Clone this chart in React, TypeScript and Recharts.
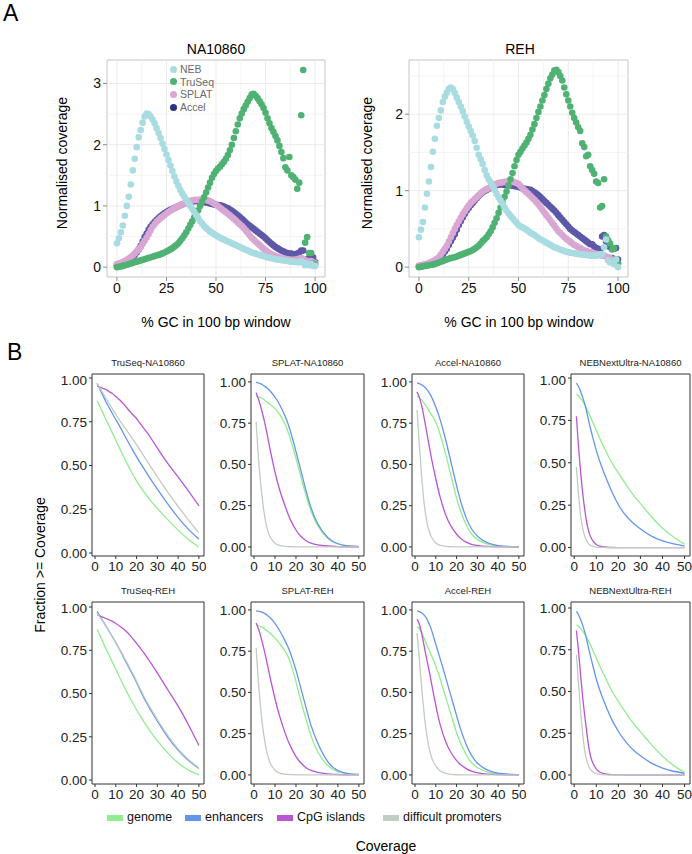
import React from 'react'
import { ScatterChart, Scatter, LineChart, Line, XAxis, YAxis, ReferenceLine, ReferenceArea } from 'recharts'

const FONT = '"Liberation Sans", Arial, Helvetica, sans-serif'

// ---------- panel A: normalised coverage vs % GC (one point per 1% GC bin) ----------
const gcBins = [
  0, 1, 2, 3, 4, 5, 6, 7, 8, 9,
  10, 11, 12, 13, 14, 15, 16, 17, 18, 19,
  20, 21, 22, 23, 24, 25, 26, 27, 28, 29,
  30, 31, 32, 33, 34, 35, 36, 37, 38, 39,
  40, 41, 42, 43, 44, 45, 46, 47, 48, 49,
  50, 51, 52, 53, 54, 55, 56, 57, 58, 59,
  60, 61, 62, 63, 64, 65, 66, 67, 68, 69,
  70, 71, 72, 73, 74, 75, 76, 77, 78, 79,
  80, 81, 82, 83, 84, 85, 86, 87, 88, 89,
  90, 91, 92, 93, 94, 95, 96, 97, 98, 99,
  100,
]

const naNeb = [
  0.39, 0.47, 0.57, 0.68, 0.84, 1.0, 1.15, 1.35, 1.58, 1.77,
  1.96, 2.12, 2.24, 2.36, 2.46, 2.51, 2.5, 2.46, 2.41, 2.35,
  2.27, 2.19, 2.11, 2.02, 1.93, 1.84, 1.75, 1.66, 1.57, 1.48,
  1.4, 1.33, 1.26, 1.2, 1.15, 1.1, 1.05, 1.0, 0.95, 0.9,
  0.85, 0.8, 0.75, 0.71, 0.67, 0.64, 0.61, 0.58, 0.56, 0.54,
  0.52, 0.5, 0.48, 0.465, 0.45, 0.435, 0.42, 0.405, 0.39, 0.375,
  0.36, 0.345, 0.33, 0.315, 0.3, 0.285, 0.27, 0.255, 0.24, 0.23,
  0.22, 0.21, 0.2, 0.19, 0.18, 0.17, 0.16, 0.152, 0.145, 0.138,
  0.13, 0.125, 0.12, 0.115, 0.11, 0.105, 0.1, 0.095, 0.09, 0.09,
  0.085, 0.08, 0.08, 0.1, 0.07, 0.03, 0.06, 0.03, 0.05, 0.02,
  0.02,
]
const naTruSeq = [
  0, 0.005, 0.01, 0.02, 0.03, 0.04, 0.05, 0.06, 0.07, 0.08,
  0.09, 0.1, 0.11, 0.12, 0.13, 0.14, 0.15, 0.16, 0.17, 0.18,
  0.19, 0.2, 0.21, 0.225, 0.24, 0.255, 0.27, 0.29, 0.31, 0.335,
  0.36, 0.39, 0.43, 0.47, 0.52, 0.57, 0.63, 0.69, 0.75, 0.81,
  0.87, 0.93, 1.0, 1.07, 1.14, 1.22, 1.3, 1.38, 1.46, 1.52,
  1.57, 1.61, 1.64, 1.68, 1.72, 1.77, 1.83, 1.91, 2.0, 2.11,
  2.22, 2.33, 2.43, 2.51, 2.58, 2.64, 2.7, 2.76, 2.82, 2.83,
  2.8, 2.76, 2.71, 2.66, 2.6, 2.52, 2.43, 2.35, 2.27, 2.21,
  2.14, 2.07, 1.98, 1.88, 1.78, 1.63, 1.58, 1.8, 1.5, 1.47,
  1.43, 1.28, 1.38, 2.48, 3.22, 0.4, 0.49, 0.23, 0.23, 0.06,
  0.04,
]
const naSplat = [
  0.05, 0.06, 0.07, 0.085, 0.1, 0.12, 0.14, 0.165, 0.19, 0.225,
  0.26, 0.29, 0.33, 0.38, 0.43, 0.485, 0.54, 0.6, 0.66, 0.7,
  0.74, 0.77, 0.8, 0.825, 0.85, 0.875, 0.9, 0.92, 0.94, 0.96,
  0.98, 0.995, 1.01, 1.025, 1.04, 1.055, 1.07, 1.08, 1.09, 1.095,
  1.1, 1.1, 1.1, 1.1, 1.1, 1.095, 1.09, 1.075, 1.06, 1.04,
  1.02, 0.995, 0.97, 0.945, 0.92, 0.895, 0.87, 0.845, 0.82, 0.79,
  0.76, 0.73, 0.7, 0.67, 0.64, 0.6, 0.56, 0.52, 0.48, 0.45,
  0.42, 0.39, 0.36, 0.33, 0.3, 0.275, 0.25, 0.23, 0.21, 0.195,
  0.18, 0.17, 0.16, 0.15, 0.14, 0.135, 0.13, 0.125, 0.12, 0.12,
  0.12, 0.13, 0.14, 0.15, 0.12, 0.11, 0.1, 0.1, 0.1, 0.08,
  0.06,
]
const naAccel = [
  0.03, 0.04, 0.05, 0.065, 0.08, 0.095, 0.11, 0.135, 0.16, 0.2,
  0.24, 0.29, 0.35, 0.42, 0.49, 0.55, 0.61, 0.66, 0.7, 0.735,
  0.77, 0.8, 0.83, 0.855, 0.88, 0.9, 0.92, 0.935, 0.95, 0.965,
  0.98, 0.995, 1.01, 1.025, 1.04, 1.05, 1.06, 1.065, 1.07, 1.075,
  1.08, 1.075, 1.07, 1.065, 1.06, 1.055, 1.05, 1.04, 1.03, 1.025,
  1.02, 1.015, 1.01, 1.0, 0.99, 0.975, 0.96, 0.94, 0.92, 0.895,
  0.87, 0.845, 0.82, 0.79, 0.76, 0.73, 0.7, 0.675, 0.65, 0.625,
  0.6, 0.575, 0.55, 0.525, 0.5, 0.47, 0.44, 0.41, 0.38, 0.355,
  0.33, 0.31, 0.29, 0.27, 0.26, 0.24, 0.23, 0.22, 0.22, 0.21,
  0.21, 0.22, 0.24, 0.27, 0.27, 0.12, 0.12, 0.15, 0.17, 0.16,
  0.08,
]

const rehNeb = [
  0.39, 0.49, 0.59, 0.78, 0.96, 1.12, 1.31, 1.51, 1.68, 1.85,
  1.95, 2.05, 2.16, 2.23, 2.28, 2.33, 2.35, 2.33, 2.28, 2.22,
  2.16, 2.1, 2.04, 1.97, 1.9, 1.84, 1.78, 1.72, 1.65, 1.56,
  1.47, 1.41, 1.35, 1.27, 1.2, 1.15, 1.11, 1.06, 1.01, 0.96,
  0.91, 0.87, 0.83, 0.78, 0.74, 0.7, 0.67, 0.64, 0.61, 0.58,
  0.55, 0.535, 0.52, 0.505, 0.49, 0.47, 0.45, 0.435, 0.42, 0.4,
  0.38, 0.365, 0.35, 0.335, 0.32, 0.305, 0.29, 0.275, 0.26, 0.25,
  0.24, 0.23, 0.22, 0.21, 0.2, 0.195, 0.19, 0.185, 0.18, 0.175,
  0.17, 0.17, 0.165, 0.16, 0.16, 0.155, 0.15, 0.15, 0.15, 0.15,
  0.16, 0.16, 0.17, 0.26, 0.36, 0.09, 0.06, 0.07, 0.04, 0.1,
  0.0,
]
const rehTruSeq = [
  0, 0.005, 0.01, 0.015, 0.02, 0.025, 0.03, 0.035, 0.04, 0.05,
  0.06, 0.07, 0.08, 0.09, 0.1, 0.11, 0.12, 0.125, 0.13, 0.14,
  0.15, 0.16, 0.17, 0.18, 0.19, 0.2, 0.21, 0.225, 0.24, 0.26,
  0.28, 0.31, 0.34, 0.365, 0.39, 0.43, 0.47, 0.52, 0.58, 0.64,
  0.71, 0.78, 0.85, 0.92, 0.99, 1.07, 1.15, 1.23, 1.32, 1.4,
  1.47, 1.51, 1.55, 1.59, 1.63, 1.68, 1.73, 1.8, 1.87, 1.95,
  2.03, 2.1, 2.18, 2.25, 2.33, 2.4, 2.47, 2.52, 2.57, 2.58,
  2.55, 2.5, 2.44, 2.35, 2.26, 2.18, 2.1, 2.02, 1.95, 1.89,
  1.83, 1.78, 1.62, 1.57, 1.45, 1.47, 1.32, 1.27, 1.22, 1.12,
  1.1, 0.78, 0.8, 1.15, 0.4, 0.35, 0.31, 0.23, 0.25, 0.1,
  0.05,
]
const rehSplat = [
  0.02, 0.025, 0.03, 0.038, 0.045, 0.055, 0.065, 0.077, 0.09, 0.11,
  0.13, 0.165, 0.2, 0.24, 0.28, 0.335, 0.39, 0.445, 0.5, 0.55,
  0.6, 0.645, 0.69, 0.73, 0.77, 0.805, 0.84, 0.865, 0.89, 0.915,
  0.94, 0.965, 0.99, 1.005, 1.02, 1.035, 1.05, 1.065, 1.08, 1.09,
  1.1, 1.105, 1.11, 1.115, 1.12, 1.12, 1.12, 1.115, 1.11, 1.1,
  1.09, 1.06, 1.03, 1.005, 0.98, 0.955, 0.93, 0.905, 0.88, 0.85,
  0.82, 0.785, 0.75, 0.715, 0.68, 0.645, 0.61, 0.575, 0.54, 0.505,
  0.47, 0.445, 0.42, 0.395, 0.37, 0.35, 0.33, 0.31, 0.29, 0.275,
  0.26, 0.25, 0.23, 0.22, 0.21, 0.2, 0.19, 0.19, 0.18, 0.17,
  0.17, 0.16, 0.15, 0.15, 0.14, 0.13, 0.12, 0.1, 0.09, 0.1,
  0.04,
]
const rehAccel = [
  0.01, 0.012, 0.015, 0.02, 0.025, 0.03, 0.035, 0.042, 0.05, 0.075,
  0.1, 0.135, 0.17, 0.205, 0.24, 0.29, 0.34, 0.385, 0.43, 0.49,
  0.55, 0.6, 0.65, 0.695, 0.74, 0.775, 0.81, 0.84, 0.87, 0.9,
  0.93, 0.955, 0.98, 0.995, 1.01, 1.025, 1.04, 1.05, 1.06, 1.07,
  1.08, 1.08, 1.08, 1.075, 1.07, 1.07, 1.07, 1.065, 1.06, 1.055,
  1.05, 1.04, 1.03, 1.025, 1.02, 1.015, 1.01, 0.995, 0.98, 0.96,
  0.94, 0.915, 0.89, 0.865, 0.84, 0.815, 0.79, 0.765, 0.74, 0.71,
  0.68, 0.65, 0.62, 0.59, 0.56, 0.53, 0.5, 0.48, 0.46, 0.44,
  0.42, 0.4, 0.38, 0.36, 0.34, 0.32, 0.3, 0.3, 0.27, 0.25,
  0.24, 0.22, 0.4, 0.42, 0.34, 0.3, 0.26, 0.12, 0.24, 0.25,
  0.1,
]

const kitNames = ['NEB', 'TruSeq', 'SPLAT', 'Accel']
const kitColors: Record<string, string> = {
  NEB: '#a8dce1',
  TruSeq: '#4fb273',
  SPLAT: '#d9a7d3',
  Accel: '#5d58a8',
}
const kitLegendColors: Record<string, string> = { ...kitColors, Accel: '#2d2f85' }

// ---------- panel B: fraction of bases >= coverage ----------
const coverage = [1, 2, 3, 4, 5, 6, 7, 8, 10, 12, 15, 17, 20, 22, 25, 27, 30, 35, 40, 45, 50]

const truseqNa = {
  genome: [0.87, 0.845, 0.82, 0.795, 0.77, 0.745, 0.72, 0.695, 0.645, 0.595, 0.52, 0.475, 0.41, 0.375, 0.325, 0.295, 0.255, 0.19, 0.13, 0.075, 0.033],
  enhancers: [0.97, 0.945, 0.92, 0.895, 0.87, 0.848, 0.826, 0.805, 0.763, 0.722, 0.655, 0.612, 0.55, 0.51, 0.455, 0.418, 0.365, 0.28, 0.2, 0.133, 0.08],
  cpg: [0.955, 0.95, 0.945, 0.94, 0.935, 0.93, 0.92, 0.915, 0.895, 0.875, 0.835, 0.805, 0.77, 0.735, 0.69, 0.655, 0.6, 0.51, 0.435, 0.355, 0.27],
  difficult: [0.97, 0.95, 0.93, 0.91, 0.89, 0.87, 0.85, 0.83, 0.792, 0.755, 0.705, 0.67, 0.618, 0.582, 0.527, 0.49, 0.435, 0.348, 0.265, 0.187, 0.115],
}
const splatNa = {
  genome: [0.915, 0.91, 0.905, 0.9, 0.89, 0.88, 0.87, 0.86, 0.84, 0.81, 0.745, 0.67, 0.54, 0.44, 0.3, 0.22, 0.13, 0.045, 0.015, 0.005, 0.002],
  enhancers: [0.998, 0.995, 0.99, 0.983, 0.975, 0.965, 0.955, 0.94, 0.91, 0.87, 0.79, 0.72, 0.58, 0.48, 0.33, 0.24, 0.14, 0.05, 0.015, 0.005, 0.002],
  cpg: [0.935, 0.9, 0.86, 0.81, 0.76, 0.7, 0.63, 0.57, 0.45, 0.35, 0.24, 0.17, 0.1, 0.065, 0.035, 0.022, 0.012, 0.005, 0.002, 0.001, 0],
  difficult: [0.76, 0.55, 0.4, 0.28, 0.19, 0.12, 0.08, 0.05, 0.02, 0.008, 0.003, 0.001, 0, 0, 0, 0, 0, 0, 0, 0, 0],
}
const accelNa = {
  genome: [0.915, 0.905, 0.895, 0.88, 0.86, 0.84, 0.82, 0.8, 0.76, 0.69, 0.55, 0.45, 0.29, 0.21, 0.12, 0.08, 0.04, 0.015, 0.005, 0.002, 0.001],
  enhancers: [0.995, 0.99, 0.985, 0.975, 0.965, 0.95, 0.93, 0.91, 0.85, 0.78, 0.64, 0.53, 0.37, 0.27, 0.16, 0.11, 0.06, 0.02, 0.007, 0.003, 0.001],
  cpg: [0.94, 0.91, 0.87, 0.81, 0.74, 0.67, 0.6, 0.53, 0.41, 0.3, 0.18, 0.13, 0.075, 0.05, 0.025, 0.016, 0.008, 0.003, 0.001, 0, 0],
  difficult: [0.83, 0.63, 0.46, 0.3, 0.2, 0.13, 0.085, 0.055, 0.02, 0.008, 0.002, 0.001, 0, 0, 0, 0, 0, 0, 0, 0, 0],
}
const nebNa = {
  genome: [0.905, 0.895, 0.88, 0.86, 0.84, 0.81, 0.78, 0.75, 0.69, 0.63, 0.55, 0.5, 0.44, 0.4, 0.34, 0.305, 0.26, 0.18, 0.11, 0.06, 0.02],
  enhancers: [0.97, 0.95, 0.92, 0.88, 0.84, 0.78, 0.72, 0.67, 0.57, 0.49, 0.39, 0.33, 0.25, 0.21, 0.165, 0.14, 0.108, 0.065, 0.038, 0.021, 0.01],
  cpg: [0.775, 0.58, 0.43, 0.3, 0.2, 0.12, 0.075, 0.045, 0.015, 0.005, 0.001, 0, 0, 0, 0, 0, 0, 0, 0, 0, 0],
  difficult: [0.475, 0.3, 0.17, 0.1, 0.055, 0.03, 0.015, 0.008, 0.002, 0, 0, 0, 0, 0, 0, 0, 0, 0, 0, 0, 0],
}
const truseqReh = {
  genome: [0.87, 0.845, 0.82, 0.79, 0.765, 0.74, 0.715, 0.69, 0.64, 0.59, 0.515, 0.47, 0.405, 0.365, 0.31, 0.275, 0.225, 0.155, 0.095, 0.055, 0.03],
  enhancers: [0.975, 0.955, 0.935, 0.915, 0.895, 0.875, 0.855, 0.835, 0.795, 0.75, 0.68, 0.635, 0.566, 0.51, 0.44, 0.4, 0.34, 0.245, 0.17, 0.11, 0.067],
  cpg: [0.955, 0.95, 0.945, 0.94, 0.935, 0.93, 0.925, 0.92, 0.905, 0.89, 0.86, 0.835, 0.79, 0.76, 0.71, 0.675, 0.62, 0.52, 0.43, 0.32, 0.2],
  difficult: [0.965, 0.948, 0.93, 0.912, 0.893, 0.874, 0.855, 0.836, 0.797, 0.755, 0.688, 0.643, 0.573, 0.52, 0.45, 0.41, 0.35, 0.255, 0.177, 0.116, 0.07],
}
const splatReh = {
  genome: [0.91, 0.905, 0.9, 0.895, 0.885, 0.875, 0.865, 0.855, 0.83, 0.8, 0.75, 0.7, 0.57, 0.46, 0.33, 0.24, 0.14, 0.05, 0.015, 0.005, 0.002],
  enhancers: [0.995, 0.993, 0.99, 0.985, 0.98, 0.97, 0.96, 0.95, 0.92, 0.88, 0.81, 0.755, 0.64, 0.54, 0.4, 0.3, 0.2, 0.07, 0.02, 0.007, 0.003],
  cpg: [0.92, 0.89, 0.85, 0.8, 0.75, 0.69, 0.63, 0.57, 0.46, 0.36, 0.245, 0.18, 0.11, 0.075, 0.04, 0.027, 0.015, 0.006, 0.002, 0.001, 0],
  difficult: [0.77, 0.57, 0.42, 0.3, 0.21, 0.14, 0.095, 0.06, 0.025, 0.01, 0.004, 0.002, 0.001, 0, 0, 0, 0, 0, 0, 0, 0],
}
const accelReh = {
  genome: [0.9, 0.89, 0.87, 0.84, 0.81, 0.78, 0.75, 0.72, 0.66, 0.59, 0.46, 0.38, 0.25, 0.19, 0.11, 0.075, 0.04, 0.015, 0.005, 0.002, 0.001],
  enhancers: [0.995, 0.99, 0.985, 0.975, 0.96, 0.94, 0.91, 0.88, 0.79, 0.71, 0.58, 0.49, 0.36, 0.27, 0.17, 0.12, 0.065, 0.025, 0.009, 0.004, 0.002],
  cpg: [0.945, 0.92, 0.87, 0.81, 0.74, 0.68, 0.62, 0.55, 0.42, 0.3, 0.19, 0.14, 0.085, 0.06, 0.035, 0.022, 0.012, 0.004, 0.001, 0, 0],
  difficult: [0.86, 0.72, 0.55, 0.42, 0.3, 0.21, 0.15, 0.1, 0.05, 0.022, 0.007, 0.003, 0.001, 0, 0, 0, 0, 0, 0, 0, 0],
}
const nebReh = {
  genome: [0.9, 0.89, 0.875, 0.86, 0.84, 0.815, 0.79, 0.76, 0.7, 0.64, 0.56, 0.5, 0.44, 0.4, 0.34, 0.305, 0.26, 0.18, 0.11, 0.055, 0.015],
  enhancers: [0.98, 0.96, 0.93, 0.89, 0.85, 0.79, 0.73, 0.68, 0.57, 0.49, 0.39, 0.33, 0.26, 0.22, 0.172, 0.147, 0.114, 0.068, 0.04, 0.021, 0.01],
  cpg: [0.865, 0.74, 0.58, 0.44, 0.33, 0.22, 0.13, 0.08, 0.03, 0.012, 0.003, 0.002, 0.001, 0, 0, 0, 0, 0, 0, 0, 0],
  difficult: [0.72, 0.54, 0.36, 0.22, 0.12, 0.07, 0.04, 0.02, 0.006, 0.002, 0, 0, 0, 0, 0, 0, 0, 0, 0, 0, 0],
}

const regionKeys = ['genome', 'enhancers', 'cpg', 'difficult'] as const
const regionLabels = ['genome', 'enhancers', 'CpG islands', 'difficult promoters']
const regionColors = ['#90ee90', '#6495ed', '#ba55d3', '#c1cdc1']
const covTicks = [0, 10, 20, 30, 40, 50]
const fracTicks = [0, 0.25, 0.5, 0.75, 1]

// ---------- helpers ----------
function Txt({ x, y, size, rotate, color = '#000', children }: any) {
  return (
    <div
      style={{
        position: 'absolute', left: x, top: y, fontSize: size, color, lineHeight: 1, whiteSpace: 'nowrap',
        transform: `translate(-50%, -50%)${rotate ? ` rotate(${rotate}deg)` : ''}`,
      }}
    >
      {children}
    </div>
  )
}

function gcPoints(values: number[]) {
  return gcBins.map((gc, i) => ({ gc, v: values[i] }))
}

function GcPanel({ box, yDomain, yTicks, series }: any) {
  const YW = 30
  const XH = 26
  const M = 3
  const xMinor = [12.5, 37.5, 62.5, 87.5]
  const xMajor = [0, 25, 50, 75, 100]
  const yMinor = yTicks.map((t: number) => t + 0.5).filter((t: number) => t < yDomain[1])
  const tick = { fontSize: 14, fill: '#111', fontFamily: FONT }
  return (
    <div style={{ position: 'absolute', left: box.left - YW, top: box.top - M }}>
      <ScatterChart width={YW + box.width + M} height={M + box.height + XH} margin={{ top: M, right: M, bottom: 0, left: 0 }}>
        <XAxis type="number" dataKey="gc" domain={[-5, 105]} ticks={xMajor} allowDataOverflow height={XH}
          tickSize={4} axisLine={false} tickLine={{ stroke: '#8c8c8c' }} tick={tick} />
        <YAxis type="number" dataKey="v" domain={yDomain} ticks={yTicks} allowDataOverflow width={YW}
          tickSize={4} axisLine={false} tickLine={{ stroke: '#8c8c8c' }} tick={tick} />
        {xMinor.map((x) => <ReferenceLine key={'xm' + x} x={x} stroke="#f4f4f4" />)}
        {yMinor.map((y: number) => <ReferenceLine key={'ym' + y} y={y} stroke="#f4f4f4" />)}
        {xMajor.map((x) => <ReferenceLine key={'xM' + x} x={x} stroke="#ebebeb" />)}
        {yTicks.map((y: number) => <ReferenceLine key={'yM' + y} y={y} stroke="#ebebeb" />)}
        <ReferenceArea x1={-5} x2={105} y1={yDomain[0]} y2={yDomain[1]} fill="none" stroke="#c4c4c4" />
        {series.map((s: any) => (
          <Scatter key={s.name} name={s.name} data={s.points} isAnimationActive={false}
            shape={(p: any) => <circle cx={p.cx} cy={p.cy} r={3.3} fill={kitColors[s.name]} />} />
        ))}
      </ScatterChart>
    </div>
  )
}

function CovPanel({ title, box, yDomain, data }: any) {
  const YW = 40
  const XH = 20
  const M = 2
  const rows = coverage.map((c, i) => ({
    c,
    genome: data.genome[i],
    enhancers: data.enhancers[i],
    cpg: data.cpg[i],
    difficult: data.difficult[i],
  }))
  const tick = { fontSize: 13.5, fill: '#222', fontFamily: FONT }
  return (
    <>
      <Txt x={box.left + box.width / 2} y={box.top - 11} size={9.5} color="#222">{title}</Txt>
      <div style={{ position: 'absolute', left: box.left - YW, top: box.top - M }}>
        <LineChart width={YW + box.width + M} height={M + box.height + XH} data={rows} margin={{ top: M, right: M, bottom: 0, left: 0 }}>
          <XAxis type="number" dataKey="c" domain={[-1.45, 52.45]} ticks={covTicks} allowDataOverflow height={XH}
            tickSize={3} axisLine={false} tickLine={{ stroke: '#333' }} tick={tick} />
          <YAxis type="number" domain={yDomain} ticks={fracTicks} allowDataOverflow width={YW}
            tickSize={3} axisLine={false} tickLine={{ stroke: '#333' }} tick={tick}
            tickFormatter={(v: number) => v.toFixed(2)} />
          <ReferenceArea x1={-1.45} x2={52.45} y1={yDomain[0]} y2={yDomain[1]} fill="none" stroke="#333" />
          {regionKeys.map((k, i) => (
            <Line key={k} type="basis" dataKey={k} stroke={regionColors[i]} strokeWidth={1.3}
              dot={false} isAnimationActive={false} />
          ))}
        </LineChart>
      </div>
    </>
  )
}

const colBoxes = [
  { left: 92, width: 112 },
  { left: 251, width: 113 },
  { left: 412, width: 112 },
  { left: 571, width: 119 },
]
const rowTops = [374, 602]
const panelHeight = 182

const covPanels = [
  { title: 'TruSeq-NA10860', data: truseqNa, row: 0, col: 0, yDomain: [-0.017, 1.023] },
  { title: 'SPLAT-NA10860', data: splatNa, row: 0, col: 1, yDomain: [-0.055, 1.048] },
  { title: 'Accel-NA10860', data: accelNa, row: 0, col: 2, yDomain: [-0.055, 1.048] },
  { title: 'NEBNextUltra-NA10860', data: nebNa, row: 0, col: 3, yDomain: [-0.05, 1.024] },
  { title: 'TruSeq-REH', data: truseqReh, row: 1, col: 0, yDomain: [-0.023, 1.029] },
  { title: 'SPLAT-REH', data: splatReh, row: 1, col: 1, yDomain: [-0.055, 1.048] },
  { title: 'Accel-REH', data: accelReh, row: 1, col: 2, yDomain: [-0.055, 1.048] },
  { title: 'NEBNextUltra-REH', data: nebReh, row: 1, col: 3, yDomain: [-0.054, 1.036] },
]

const legendSwatchX = [107, 185, 277, 383]

export default function App() {
  // drawn back to front: Accel, SPLAT, TruSeq, NEB
  const naSeries = [
    { name: 'Accel', points: gcPoints(naAccel) },
    { name: 'SPLAT', points: gcPoints(naSplat) },
    { name: 'TruSeq', points: gcPoints(naTruSeq) },
    { name: 'NEB', points: gcPoints(naNeb) },
  ]
  const rehSeries = [
    { name: 'Accel', points: gcPoints(rehAccel) },
    { name: 'SPLAT', points: gcPoints(rehSplat) },
    { name: 'TruSeq', points: gcPoints(rehTruSeq) },
    { name: 'NEB', points: gcPoints(rehNeb) },
  ]

  return (
    <div style={{ position: 'absolute', left: 0, top: 0, width: 692, height: 854, background: '#fff', fontFamily: FONT, overflow: 'hidden' }}>
      <div style={{ position: 'absolute', left: 3, top: 2, fontSize: 23, lineHeight: 1 }}>A</div>
      <div style={{ position: 'absolute', left: 7, top: 341, fontSize: 23, lineHeight: 1 }}>B</div>

      {/* panel A */}
      <Txt x={216} y={49} size={14}>NA10860</Txt>
      <Txt x={62} y={163} size={14} rotate={-90}>Normalised coverage</Txt>
      <Txt x={216} y={322} size={14}>% GC in 100 bp window</Txt>
      <GcPanel box={{ left: 107, top: 60, width: 218, height: 217 }} yDomain={[-0.161, 3.383]} yTicks={[0, 1, 2, 3]} series={naSeries} />
      {kitNames.map((k, i) => (
        <div key={k} style={{ position: 'absolute', left: 170, top: 63 + i * 12.7, height: 12, display: 'flex', alignItems: 'center' }}>
          <span style={{ width: 7, height: 7, borderRadius: '50%', background: kitLegendColors[k], display: 'inline-block', marginRight: 3 }} />
          <span style={{ fontSize: 10.5, color: '#6a6a6a' }}>{k}</span>
        </div>
      ))}

      <Txt x={520} y={49} size={14}>REH</Txt>
      <Txt x={367} y={163} size={14} rotate={-90}>Normalised coverage</Txt>
      <Txt x={519} y={322} size={14}>% GC in 100 bp window</Txt>
      <GcPanel box={{ left: 409, top: 60, width: 219, height: 217 }} yDomain={[-0.129, 2.709]} yTicks={[0, 1, 2]} series={rehSeries} />

      {/* panel B */}
      {covPanels.map((p) => (
        <CovPanel key={p.title} title={p.title} data={p.data} yDomain={p.yDomain}
          box={{ left: colBoxes[p.col].left, width: colBoxes[p.col].width, top: rowTops[p.row], height: panelHeight }} />
      ))}
      <Txt x={40} y={565} size={14} rotate={-90}>{'Fraction >= Coverage'}</Txt>
      {regionLabels.map((r, i) => (
        <React.Fragment key={r}>
          <div style={{ position: 'absolute', left: legendSwatchX[i], top: 815, width: 16, height: 6, background: regionColors[i] }} />
          <div style={{ position: 'absolute', left: legendSwatchX[i] + 20, top: 811, fontSize: 12.5, lineHeight: 1, color: '#111', whiteSpace: 'nowrap' }}>{r}</div>
        </React.Fragment>
      ))}
      <Txt x={386} y={846} size={14}>Coverage</Txt>
    </div>
  )
}
